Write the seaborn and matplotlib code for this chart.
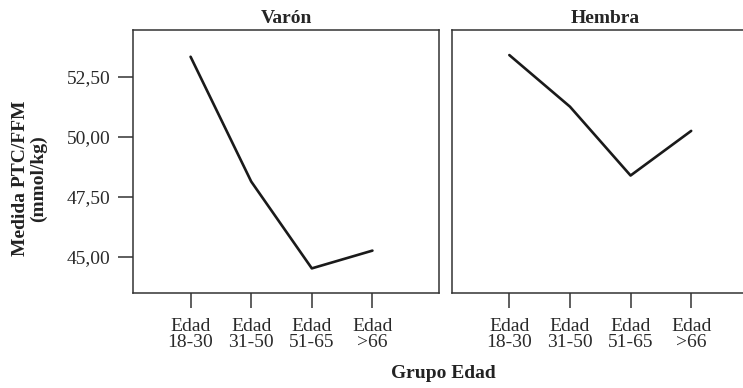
import matplotlib
matplotlib.use("Agg")
from matplotlib import pyplot as plt
import pandas as pd
import seaborn as sns

grupos = ["Edad\n18-30", "Edad\n31-50", "Edad\n51-65", "Edad\n>66"]
varon = [53.33, 48.13, 44.51, 45.25]
hembra = [53.40, 51.25, 48.38, 50.24]
y_ticks = [45.0, 47.5, 50.0, 52.5]

df = pd.DataFrame({
    "Grupo Edad": grupos * 2,
    "Medida": varon + hembra,
    "Sexo": ["Varón"] * 4 + ["Hembra"] * 4,
})

sns.set_style("white")
plt.rcParams["font.family"] = ["Liberation Serif", "DejaVu Serif"]
fs = 14

fig = plt.figure(figsize=(7.43, 3.88), dpi=100)
ax1 = fig.add_axes([0.179, 0.244, 0.412, 0.679])
ax2 = fig.add_axes([0.608, 0.244, 0.412, 0.679])

for ax, sexo in [(ax1, "Varón"), (ax2, "Hembra")]:
    sns.lineplot(data=df[df["Sexo"] == sexo], x="Grupo Edad", y="Medida",
                 sort=False, color="#1a1a1a", linewidth=1.9, ax=ax)
    ax.set_xlim(-0.95, 4.1)
    ax.set_ylim(43.47, 54.45)
    ax.set_title(sexo, fontweight="bold", fontsize=fs, pad=5)
    ax.set_xlabel("")
    ax.set_ylabel("")
    for s in ax.spines.values():
        s.set_color("#333333")
        s.set_linewidth(1.1)
    ax.tick_params(axis="x", length=11, width=1.1, color="#333333",
                   labelsize=fs, pad=7, bottom=True)
    ax.tick_params(axis="y", length=11, width=1.1, color="#333333",
                   labelsize=fs, pad=5, left=True)
    ax.set_xticks(range(len(grupos)))
    ax.set_xticklabels(grupos, linespacing=0.9, color="#2a2a2a")
    ax.set_yticks(y_ticks)
    ax.set_yticklabels([f"{v:.2f}".replace(".", ",") for v in y_ticks], color="#2a2a2a")

ax2.tick_params(axis="y", left=False, labelleft=False)

fig.text(0.04, 0.54, "Medida PTC/FFM\n(mmol/kg)", rotation=90, ha="center",
         va="center", fontweight="bold", fontsize=fs, linespacing=1.1, color="#222222")
fig.text(0.597, 0.038, "Grupo Edad", ha="center", va="center",
         fontweight="bold", fontsize=fs, color="#222222")

fig.savefig("out.png", dpi=100)
